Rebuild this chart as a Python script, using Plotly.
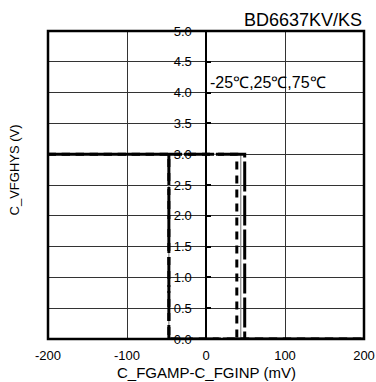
import plotly.graph_objects as go

# Data (mV thresholds of each hysteresis loop, output levels in V)
temps = ["-25℃", "25℃", "75℃"]
x_high = [39, 44, 49]      # falling edge (right vertical) in mV
x_low = [-47, -47, -47]    # rising edge (left vertical) in mV
v_high = 3.0
v_low = 0.0
x_min, x_max = -200, 200
x_ticks = [-200, -100, 0, 100, 200]
x_tick_text = ["-200", "-100", "0", "100", "200"]

# draw order: thin grey solid first, then the two thick dashed curves
styles = {
    1: dict(color="#888888", width=1.2, dash="solid"),
    0: dict(color="black", width=3, dash="8px,6px"),
    2: dict(color="black", width=3, dash="30px,4px"),
}

FONT = "Liberation Sans, Arial, sans-serif"
fig = go.Figure()
for i in [1, 0, 2]:
    xh, xl = x_high[i], x_low[i]
    xs = [x_min, xh, xh, x_max, xl, xl, x_min]
    ys = [v_high, v_high, v_low, v_low, v_low, v_high, v_high]
    fig.add_trace(go.Scatter(x=xs, y=ys, mode="lines", name=temps[i], line=styles[i],
                             showlegend=False, hoverinfo="skip"))
# invisible trace to activate the axis-line / tick-mark axis at x = 0
fig.add_trace(go.Scatter(x=[0], y=[0], yaxis="y2", mode="markers", opacity=0,
                         showlegend=False, hoverinfo="skip"))

fig.update_layout(
    width=376, height=382,
    margin=dict(l=48, r=12, t=31, b=43, autoexpand=False),
    plot_bgcolor="white", paper_bgcolor="white",
    font=dict(family=FONT, color="black", size=13),
    xaxis=dict(range=[x_min, x_max], tickvals=x_ticks, ticktext=x_tick_text,
               showgrid=True, gridcolor="#333333", automargin=False,
               gridwidth=1, zeroline=False, showline=False, ticks="",
               tickfont=dict(size=13), ticklabelstandoff=7),
    yaxis=dict(range=[0, 5], dtick=0.5, tickformat=".1f", showgrid=True,
               gridcolor="#333333", gridwidth=1, zeroline=False, automargin=False,
               anchor="free", position=0.455, showline=False, ticks="",
               tickfont=dict(size=13)),
    yaxis2=dict(range=[0, 5], dtick=0.5, overlaying="y", anchor="free", position=0.5,
                showgrid=False, zeroline=False, showticklabels=False, showline=True,
                linecolor="black", linewidth=2,
                ticks="inside", ticklen=4, tickwidth=2, tickcolor="black",
                automargin=False),
    shapes=[dict(type="rect", xref="paper", yref="paper", x0=0, y0=0, x1=1, y1=1,
                 line=dict(color="black", width=2.5), layer="above")],
    annotations=[
        dict(text="BD6637KV/KS", xref="paper", yref="paper", x=1.0, y=1.0,
             xanchor="right", yanchor="bottom", showarrow=False, yshift=-1,
             font=dict(size=18)),
        dict(text="-25℃,25℃,75℃", xref="x", yref="paper", x=2, y=0.834,
             xanchor="left", yanchor="middle", showarrow=False, font=dict(size=16)),
        dict(text="C_VFGHYS (V)", xref="paper", yref="paper", x=-0.105, y=0.55,
             xanchor="center", yanchor="middle", textangle=-90, showarrow=False,
             font=dict(size=13)),
        dict(text="C_FGAMP-C_FGINP (mV)", xref="paper", yref="paper", x=0.5, y=-0.109,
             xanchor="center", yanchor="middle", showarrow=False, font=dict(size=15)),
    ],
)

fig.write_html("out.html")
